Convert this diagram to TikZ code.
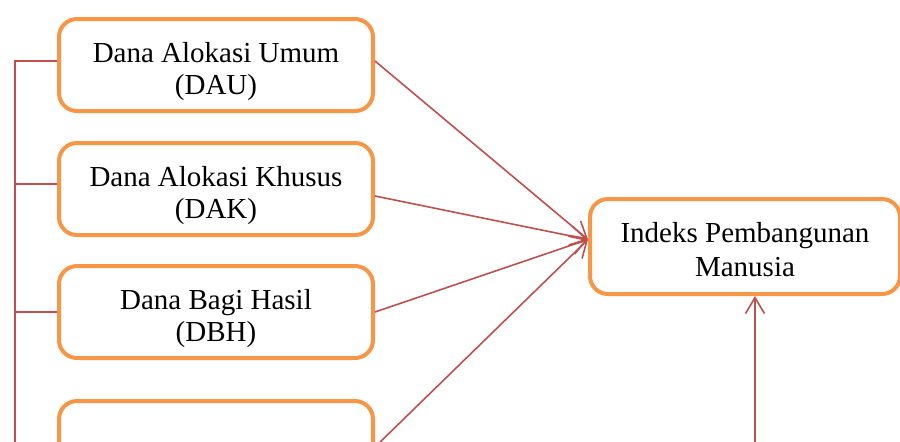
\documentclass[tikz,border=0pt]{standalone}
\usepackage{fontspec}
\setmainfont{Liberation Serif}
\usepackage{tikz}
\usetikzlibrary{positioning,arrows.meta,calc}
\definecolor{boxorange}{HTML}{F79646}
\definecolor{linkred}{HTML}{C0504D}

\begin{document}
\begin{tikzpicture}[x=0.5pt, y=-0.5pt,
  fund/.style={draw=boxorange, line width=2pt, rounded corners=9pt,
    align=center, minimum width=157pt, minimum height=46pt,
    text height=32.5pt, font=\fontsize{14.5pt}{16pt}\selectfont},
  target/.style={fund, minimum width=155pt, minimum height=47.5pt,
    text height=30pt, font=\fontsize{14.5pt}{17pt}\selectfont},
  link/.style={draw=linkred, line width=0.8pt},
  arrow/.style={link, -{Straight Barb[length=8pt, width=9.5pt]}},
  node distance=14pt
]
\useasboundingbox (0,0) rectangle (900,441);
\clip (0,0) rectangle (900,441);
\node[fund] (dau) at (216,65) {Dana Alokasi Umum\\(DAU)};
\node[fund, below=of dau] (dak) {Dana Alokasi Khusus\\(DAK)};
\node[fund, below=13.5pt of dak] (dbh) {Dana Bagi Hasil\\(DBH)};
\node[fund, below=19.5pt of dbh] (dana4) {};
\node[target] (ipm) at (745,246.5) {Indeks Pembangunan\\Manusia};
\coordinate (rail) at (15,0);
\coordinate (hub) at ([yshift=3.5pt]ipm.west);
\coordinate (src) at (755,470);
% left bracket
\draw[link] ([yshift=2pt]dau.west) -- ([yshift=2pt]dau.west -| rail)
  -- (dana4.west -| rail) -- (dana4.west);
\foreach \b/\s in {dak/2.5pt, dbh/0pt}
  \draw[link] ([yshift=\s]\b.west) -- ([yshift=\s]\b.west -| rail);
% arrows into the index
\draw[arrow] ([yshift=2pt]dau.east) -- (hub);
\draw[arrow] ([yshift=-3.5pt]dak.east) -- (hub);
\draw[arrow] (dbh.east) -- (hub);
\draw[arrow] (dana4.east) -- (hub);
\draw[arrow] (src) -- (src |- ipm.south);
\end{tikzpicture}
\end{document}
